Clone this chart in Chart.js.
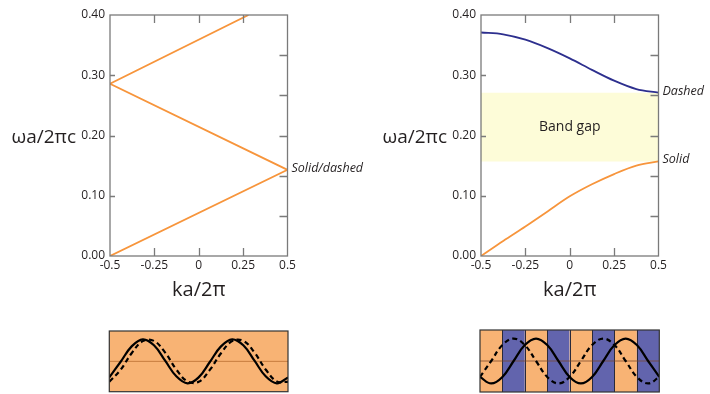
<!DOCTYPE html>
<html>
<head>
<meta charset="utf-8">
<script src="https://cdn.jsdelivr.net/npm/chart.js@4/dist/chart.umd.min.js"></script>
<style>
  html, body { margin: 0; padding: 0; background: #fff; width: 710px; height: 394px; overflow: hidden; }
  canvas { position: absolute; }
</style>
</head>
<body>
<canvas id="bandEmpty" width="380" height="300" style="left:0;top:0"></canvas>
<canvas id="bandCrystal" width="330" height="300" style="left:380px;top:0"></canvas>
<canvas id="waveEmpty" width="190" height="68" style="left:104px;top:326px"></canvas>
<canvas id="waveCrystal" width="192" height="68" style="left:474px;top:326px"></canvas>
<script>
const FONT = '"Open Sans", "Liberation Sans", sans-serif';

// axes
const kTicks = [-0.5, -0.25, 0, 0.25, 0.5];
const kTickLabels = ['-0.5', '-0.25', '0', '0.25', '0.5'];
const freqTicks = [0, 0.1, 0.2, 0.3, 0.4];
const freqTickLabels = ['0.00', '0.10', '0.20', '0.30', '0.40'];
const rightTicks = [0.067, 0.133, 0.2, 0.267, 0.333];

// uniform medium: folded light line
const foldedK = [-0.5, 0.5, -0.5, 0.28];
const foldedFreq = [0, 0.143, 0.286, 0.40];

// periodic medium: two lowest bands
const bandK = [-0.5, -0.375, -0.25, -0.125, 0, 0.125, 0.25, 0.375, 0.5];
const band1 = [0, 0.025, 0.049, 0.074, 0.099, 0.119, 0.136, 0.150, 0.157];
const band2 = [0.371, 0.368, 0.359, 0.345, 0.328, 0.309, 0.291, 0.277, 0.271];
const gapBottom = 0.157;
const gapTop = 0.271;

// field profiles (x in lattice periods)
const waveX = [0, 0.125, 0.25, 0.375, 0.5, 0.625, 0.75, 0.875, 1,
               1.125, 1.25, 1.375, 1.5, 1.625, 1.75, 1.875, 2];
const emptySolid = [-0.73, -0.03, 0.68, 1.0, 0.73, 0.03, -0.68, -1.0,
                    -0.73, -0.03, 0.68, 1.0, 0.73, 0.03, -0.68, -1.0, -0.73];
const emptyDashed = [-0.93, -0.39, 0.37, 0.92, 0.93, 0.40, -0.37, -0.91,
                     -0.93, -0.39, 0.37, 0.92, 0.93, 0.40, -0.37, -0.91, -0.93];
const crystalSolid = [-0.71, -1.0, -0.71, 0, 0.71, 1.0, 0.71, 0,
                      -0.71, -1.0, -0.71, 0, 0.71, 1.0, 0.71, 0, -0.71];
const crystalDashed = [-0.71, 0, 0.71, 1.0, 0.71, 0, -0.71, -1.0,
                       -0.71, 0, 0.71, 1.0, 0.71, 0, -0.71, -1.0, -0.71];
const layerEdges = [0, 0.25, 0.5, 0.75, 1, 1.25, 1.5, 1.75, 2];

const ORANGE = '#f7953c';
const NAVY = '#2d2f8e';
const GAP = '#fdfcd8';
const SLAB_LO = '#f8b374';
const SLAB_HI = '#6264ad';

const pts = (xs, ys) => xs.map((x, i) => ({ x, y: ys[i] }));

const bandPlugin = {
  id: 'bandDeco',
  afterDatasetsDraw(chart, args, opts) {
    const { ctx, chartArea: a, scales: { x, y } } = chart;
    ctx.save();
    // frame + inside ticks
    ctx.strokeStyle = '#7a7a7a';
    ctx.lineWidth = 1.3;
    ctx.strokeRect(a.left, a.top, a.width, a.height);
    ctx.beginPath();
    kTicks.slice(1, -1).forEach(v => {
      const px = Math.round(x.getPixelForValue(v)) + 0.5;
      ctx.moveTo(px, a.top); ctx.lineTo(px, a.top + 8);
      ctx.moveTo(px, a.bottom); ctx.lineTo(px, a.bottom - 8);
    });
    freqTicks.slice(1, -1).forEach(v => {
      const py = Math.round(y.getPixelForValue(v)) + 0.5;
      ctx.moveTo(a.left, py); ctx.lineTo(a.left + 5, py);
    });
    rightTicks.forEach(v => {
      const py = Math.round(y.getPixelForValue(v)) + 0.5;
      ctx.moveTo(a.right, py); ctx.lineTo(a.right - 8, py);
    });
    ctx.stroke();

    // axis titles
    ctx.fillStyle = '#231f20';
    ctx.font = '19px ' + FONT;
    ctx.textAlign = 'right';
    ctx.textBaseline = 'alphabetic';
    ctx.fillText('ωa/2πc', a.left - 34, y.getPixelForValue(0.2) + 7);
    ctx.font = '20px ' + FONT;
    ctx.textAlign = 'center';
    ctx.fillText('ka/2π', (a.left + a.right) / 2, 296);

    // notes
    ctx.font = 'italic 12.5px ' + FONT;
    ctx.textAlign = 'left';
    ctx.textBaseline = 'middle';
    (opts.notes || []).forEach(n => {
      ctx.fillText(n.text, x.getPixelForValue(n.k) + 4, y.getPixelForValue(n.f) - 1.5);
    });
    if (opts.gapText) {
      ctx.font = '14px ' + FONT;
      ctx.textAlign = 'center';
      ctx.fillText(opts.gapText, (a.left + a.right) / 2,
        y.getPixelForValue((gapBottom + gapTop) / 2));
    }
    ctx.restore();
  }
};

function bandChart(id, datasets, yWidth, rightPad, opts) {
  return new Chart(document.getElementById(id), {
    type: 'line',
    data: { datasets },
    options: {
      responsive: false,
      devicePixelRatio: 1,
      animation: false,
      layout: { padding: { top: 15, right: rightPad, left: 0, bottom: 0 } },
      plugins: { legend: { display: false }, tooltip: { enabled: false }, bandDeco: opts },
      elements: { point: { radius: 0 } },
      scales: {
        x: {
          type: 'linear', min: -0.5, max: 0.5,
          grid: { display: false, drawTicks: false },
          border: { display: false },
          afterBuildTicks: s => { s.ticks = kTicks.map(v => ({ value: v })); },
          afterFit: s => { s.height = 44; },
          ticks: {
            callback: (v, i) => kTickLabels[i],
            font: { family: FONT, size: 12 }, color: '#231f20',
            padding: 2, maxRotation: 0, autoSkip: false
          }
        },
        y: {
          type: 'linear', min: 0, max: 0.4,
          grid: { display: false, drawTicks: false },
          border: { display: false },
          afterBuildTicks: s => { s.ticks = freqTicks.map(v => ({ value: v })); },
          afterFit: s => { s.width = yWidth; },
          ticks: {
            callback: (v, i) => freqTickLabels[i],
            font: { family: FONT, size: 12 }, color: '#231f20',
            padding: 5, autoSkip: false
          }
        }
      }
    },
    plugins: [bandPlugin]
  });
}

bandChart('bandEmpty', [
  { data: pts(foldedK, foldedFreq), borderColor: ORANGE, borderWidth: 1.8, tension: 0 }
], 110, 92.5, { notes: [{ text: 'Solid/dashed', k: 0.5, f: foldedFreq[1] }] });

bandChart('bandCrystal', [
  { data: pts(bandK, band1), borderColor: ORANGE, borderWidth: 1.8, cubicInterpolationMode: 'monotone' },
  { data: pts(bandK, band2), borderColor: NAVY, borderWidth: 1.8, cubicInterpolationMode: 'monotone' },
  { data: pts([-0.5, 0.5], [gapBottom, gapBottom]), borderWidth: 0, borderColor: 'rgba(0,0,0,0)', fill: false },
  { data: pts([-0.5, 0.5], [gapTop, gapTop]), borderWidth: 0, borderColor: 'rgba(0,0,0,0)', backgroundColor: GAP, fill: '-1' }
], 101, 51.5, {
  notes: [{ text: 'Dashed', k: 0.5, f: gapTop }, { text: 'Solid', k: 0.5, f: gapBottom }],
  gapText: 'Band gap'
});

const slabPlugin = {
  id: 'slabs',
  beforeDatasetsDraw(chart, args, opts) {
    const { ctx, chartArea: a, scales: { x } } = chart;
    ctx.save();
    for (let i = 0; i < opts.edges.length - 1; i++) {
      const x0 = x.getPixelForValue(opts.edges[i]);
      const x1 = x.getPixelForValue(opts.edges[i + 1]);
      ctx.fillStyle = opts.colors[i % opts.colors.length];
      ctx.fillRect(x0, a.top, x1 - x0, a.height);
    }
    if (opts.colors.length > 1) {
      ctx.strokeStyle = '#2a2a3a';
      ctx.lineWidth = 1;
      ctx.beginPath();
      opts.edges.slice(1, -1).forEach(v => {
        const px = Math.round(x.getPixelForValue(v)) + 0.5;
        ctx.moveTo(px, a.top); ctx.lineTo(px, a.bottom);
      });
      ctx.stroke();
    }
    ctx.restore();
  },
  afterDatasetsDraw(chart) {
    const { ctx, chartArea: a } = chart;
    ctx.save();
    ctx.strokeStyle = '#333';
    ctx.lineWidth = 1.2;
    ctx.strokeRect(a.left, a.top, a.width, a.height);
    ctx.restore();
  }
};

function waveChart(id, solid, dashed, pad, slabs, axisColor) {
  return new Chart(document.getElementById(id), {
    type: 'line',
    data: {
      datasets: [
        { data: pts(waveX, solid), borderColor: '#000', borderWidth: 2.2, tension: 0.4 },
        { data: pts(waveX, dashed), borderColor: '#000', borderWidth: 2.2, borderDash: [5, 3.5], tension: 0.4 },
        { data: pts([0, 2], [0, 0]), borderColor: axisColor, borderWidth: 1 }
      ]
    },
    options: {
      responsive: false,
      devicePixelRatio: 1,
      animation: false,
      layout: { padding: pad },
      plugins: { legend: { display: false }, tooltip: { enabled: false }, slabs },
      elements: { point: { radius: 0 } },
      scales: {
        x: { type: 'linear', min: 0, max: 2, display: false },
        y: { type: 'linear', min: -1.38, max: 1.38, display: false }
      }
    },
    plugins: [slabPlugin]
  });
}

waveChart('waveEmpty', emptySolid, emptyDashed,
  { left: 5.3, top: 5, right: 6, bottom: 2.3 },
  { edges: [0, 2], colors: [SLAB_LO] }, '#c77d3e');

waveChart('waveCrystal', crystalSolid, crystalDashed,
  { left: 6, top: 4, right: 6.7, bottom: 2 },
  { edges: layerEdges, colors: [SLAB_LO, SLAB_HI] }, 'rgba(120,70,40,0.75)');
</script>
</body>
</html>
